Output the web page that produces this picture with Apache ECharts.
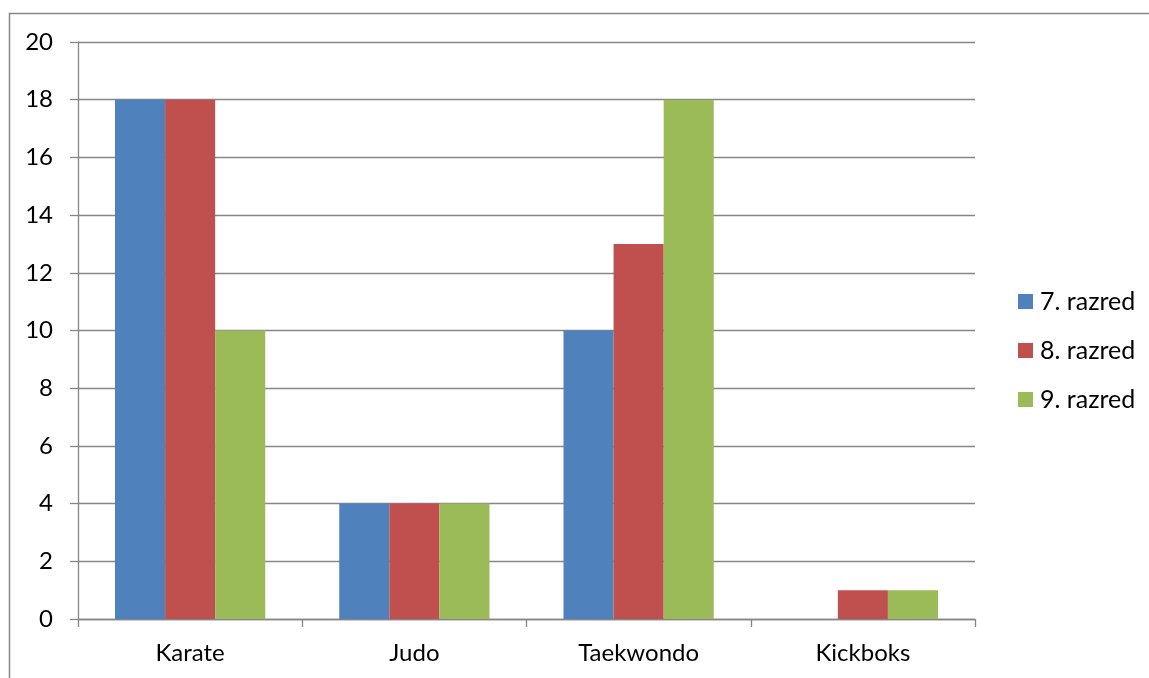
<!DOCTYPE html>
<html>
<head>
<meta charset="utf-8">
<script src="https://cdn.jsdelivr.net/npm/echarts@6/dist/echarts.min.js"></script>
<style>
  html, body { margin: 0; padding: 0; background: #fff; }
  #chart { width: 1149px; height: 678px; }
</style>
</head>
<body>
<div id="chart"></div>
<script>
// Sports by grade
const categories = ['Karate', 'Judo', 'Taekwondo', 'Kickboks'];
const grade7 = [18, 4, 10, 0];
const grade8 = [18, 4, 13, 1];
const grade9 = [10, 4, 18, 1];
const seriesNames = ['7. razred', '8. razred', '9. razred'];
const colors = ['#4F81BD', '#C0504D', '#9BBB59'];

const font = 'Lato, "Open Sans", sans-serif';
const axisGray = '#868686';

const chart = echarts.init(document.getElementById('chart'), null, { renderer: 'canvas' });
chart.setOption({
  animation: false,
  textStyle: { fontFamily: font },
  graphic: [{
    type: 'rect',
    shape: { x: 9.5, y: 13.5, width: 1150, height: 700 },
    style: { fill: 'none', stroke: axisGray, lineWidth: 1.5 },
    silent: true
  }],
  grid: { left: 78, top: 42, width: 897, height: 577, containLabel: false },
  legend: {
    orient: 'vertical',
    left: 1013,
    top: 284,
    itemWidth: 15,
    itemHeight: 15,
    itemGap: 24,
    icon: 'rect',
    textStyle: { fontFamily: font, fontSize: 25, color: '#000', padding: [0, 0, 0, 2] },
    data: seriesNames
  },
  xAxis: {
    type: 'category',
    data: categories,
    boundaryGap: true,
    axisLine: { lineStyle: { color: axisGray, width: 1.3 } },
    axisTick: { show: true, length: 8, lineStyle: { color: axisGray, width: 1.3 } },
    axisLabel: { fontFamily: font, fontSize: 24, color: '#000', margin: 22 }
  },
  yAxis: {
    type: 'value',
    min: 0,
    max: 20,
    interval: 2,
    axisLine: { show: true, lineStyle: { color: axisGray, width: 1.3 } },
    axisTick: { show: true, length: 8, lineStyle: { color: axisGray, width: 1.3 } },
    axisLabel: { fontFamily: font, fontSize: 24, color: '#000', margin: 25 },
    splitLine: { show: true, lineStyle: { color: axisGray, width: 1.3 } }
  },
  series: [
    { name: seriesNames[0], type: 'bar', data: grade7, itemStyle: { color: colors[0] }, barGap: '0%', barCategoryGap: '33%' },
    { name: seriesNames[1], type: 'bar', data: grade8, itemStyle: { color: colors[1] }, barGap: '0%', barCategoryGap: '33%' },
    { name: seriesNames[2], type: 'bar', data: grade9, itemStyle: { color: colors[2] }, barGap: '0%', barCategoryGap: '33%' }
  ]
});
</script>
</body>
</html>
